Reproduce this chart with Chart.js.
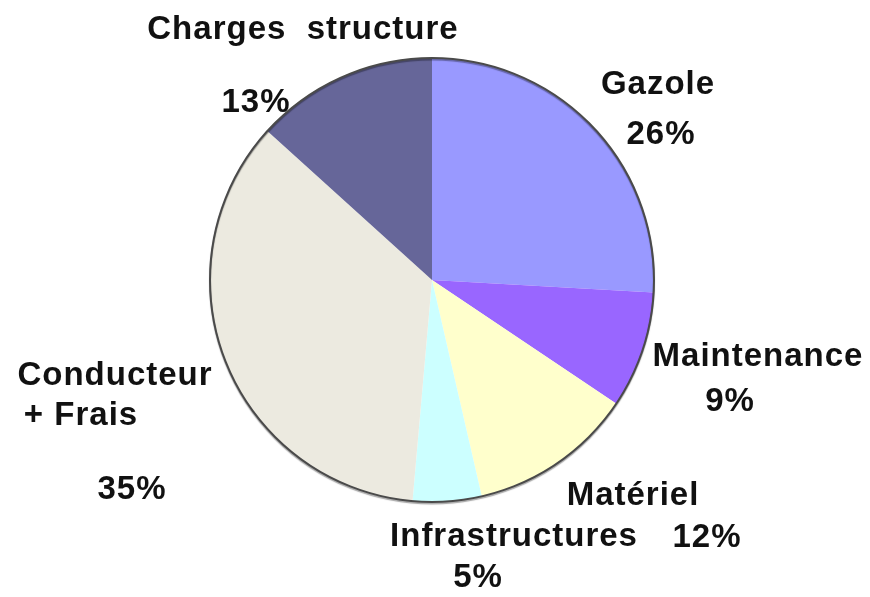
<!DOCTYPE html>
<html>
<head>
<meta charset="utf-8">
<script src="https://cdn.jsdelivr.net/npm/chart.js@4.4.0/dist/chart.umd.min.js"></script>
<style>
  body { margin: 0; background: #fff; }
  canvas { display: block; }
</style>
</head>
<body>
<canvas id="pie" width="870" height="597"></canvas>
<script>
// ===== data =====
const categories = ["Gazole", "Maintenance", "Matériel", "Infrastructures", "Conducteur + Frais", "Charges structure"];
// slice sizes as measured on the picture (labels show them rounded)
const shares = [25.9, 8.5, 12.0, 5.0, 35.3, 13.3];
const sliceColors = ["#9999ff", "#9966ff", "#ffffcc", "#ccffff", "#eceae0", "#666699"];

// text placement (label lines + percent), centre of each text line
const labelLayout = [
  { name: [["Gazole", 658, 85]], pct: [661, 135] },
  { name: [["Maintenance", 758, 357]], pct: [730, 402] },
  { name: [["Matériel", 633, 496]], pct: [707, 538] },
  { name: [["Infrastructures", 514, 537]], pct: [478, 578] },
  { name: [["Conducteur", 115, 376], ["+ Frais", 81, 416]], pct: [132, 490] },
  { name: [["Charges  structure", 303, 30]], pct: [256, 103] }
];

// outline round the pie + the text labels
const pieText = {
  id: "pieText",
  afterDatasetsDraw(chart) {
    const ctx = chart.ctx;
    const arc = chart.getDatasetMeta(0).data[0];
    ctx.save();
    ctx.beginPath();
    ctx.arc(arc.x, arc.y, arc.outerRadius, 0, Math.PI * 2);
    ctx.strokeStyle = "#4a4a4a";
    ctx.lineWidth = 2;
    ctx.shadowColor = "rgba(0,0,0,0.35)";
    ctx.shadowOffsetY = 1.5;
    ctx.shadowBlur = 1;
    ctx.stroke();
    ctx.restore();

    ctx.save();
    ctx.fillStyle = "#111";
    ctx.font = "bold 33px 'Liberation Sans', Arial, sans-serif";
    ctx.letterSpacing = "1px";
    ctx.textAlign = "center";
    ctx.textBaseline = "middle";
    labelLayout.forEach((l, i) => {
      l.name.forEach(n => ctx.fillText(n[0], n[1], n[2]));
      ctx.fillText(Math.round(shares[i]) + "%", l.pct[0], l.pct[1]);
    });
    ctx.restore();
  }
};

new Chart(document.getElementById("pie"), {
  type: "pie",
  data: {
    labels: categories,
    datasets: [{
      data: shares,
      backgroundColor: sliceColors,
      borderWidth: 0
    }]
  },
  options: {
    responsive: false,
    animation: false,
    layout: { padding: { left: 210, right: 216, top: 58, bottom: 95 } },
    plugins: {
      legend: { display: false },
      tooltip: { enabled: false }
    }
  },
  plugins: [pieText]
});
</script>
</body>
</html>
